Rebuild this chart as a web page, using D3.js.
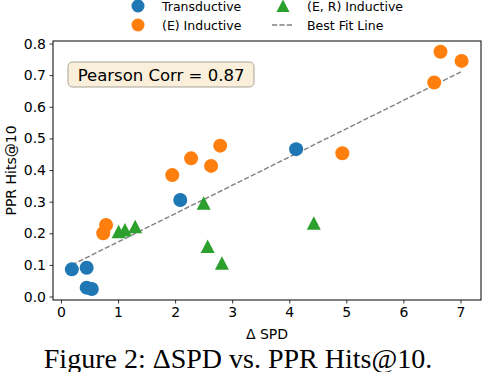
<!DOCTYPE html>
<html>
<head>
<meta charset="utf-8">
<script src="https://cdn.jsdelivr.net/npm/d3@7"></script>
<style>
  body { margin: 0; background: #fff; }
  svg text { font-family: "DejaVu Sans", sans-serif; }
</style>
</head>
<body>
<div id="chart"></div>
<script>
// data
var transX = [0.19, 0.45, 0.45, 0.54, 2.09, 4.12];
var transY = [0.086, 0.091, 0.028, 0.024, 0.305, 0.466];
var indEX = [0.79, 0.74, 1.95, 2.28, 2.63, 2.79, 4.93, 6.54, 6.65, 7.02];
var indEY = [0.226, 0.2, 0.384, 0.437, 0.413, 0.477, 0.453, 0.677, 0.774, 0.745];
var indERX = [1.01, 1.12, 1.30, 2.50, 2.57, 2.82, 4.43];
var indERY = [0.205, 0.21, 0.221, 0.295, 0.158, 0.105, 0.232];
var fitSlope = 0.0895, fitIntercept = 0.083;
var xTicks = [0, 1, 2, 3, 4, 5, 6, 7];
var yTicks = [0, 0.1, 0.2, 0.3, 0.4, 0.5, 0.6, 0.7, 0.8];
var legendLabels = ["Transductive", "(E) Inductive", "(E, R) Inductive", "Best Fit Line"];
var corrText = "Pearson Corr = 0.87";

var colors = {trans: "#1f77b4", indE: "#ff7f0e", indER: "#2ca02c"};
var FONT = "'DejaVu Sans', sans-serif";

var W = 482, H = 372;
var margin = {top: 41, right: 1, bottom: 72, left: 53};
var width = W - margin.left - margin.right,
    height = H - margin.top - margin.bottom;

var svg = d3.select("#chart").append("svg")
    .attr("width", W).attr("height", H);

var g = svg.append("g")
    .attr("transform", "translate(" + margin.left + "," + margin.top + ")");

var x = d3.scaleLinear().domain([-0.14, 7.36]).range([0, width]);
var y = d3.scaleLinear().domain([-0.011, 0.808]).range([height, 0]);

function zip(xs, ys) { return xs.map(function(v, i) { return {x: v, y: ys[i]}; }); }

// axes
var xAxis = g.append("g")
    .attr("transform", "translate(0," + height + ")")
    .call(d3.axisBottom(x).tickValues(xTicks).tickFormat(d3.format("d")).tickSize(3.5).tickPadding(3.5));
var yAxis = g.append("g")
    .call(d3.axisLeft(y).tickValues(yTicks).tickFormat(d3.format(".1f")).tickSize(3.5).tickPadding(3.5));
[xAxis, yAxis].forEach(function(a) {
  a.attr("font-family", null);
  a.select(".domain").remove();
  a.selectAll("text").attr("font-size", 14).attr("fill", "#000").style("font-family", FONT);
  a.selectAll("line").attr("stroke", "#000").attr("stroke-width", 0.8);
});

// frame
g.append("rect")
    .attr("width", width).attr("height", height)
    .attr("fill", "none").attr("stroke", "#000").attr("stroke-width", 1);

// best fit line
var xMin = d3.min(transX.concat(indEX, indERX)), xMax = d3.max(transX.concat(indEX, indERX));
g.append("line")
    .attr("x1", x(xMin)).attr("y1", y(fitSlope * xMin + fitIntercept))
    .attr("x2", x(xMax)).attr("y2", y(fitSlope * xMax + fitIntercept))
    .attr("stroke", "#808080").attr("stroke-width", 1.4)
    .attr("stroke-dasharray", "5.2,2.2");

// scatter
g.selectAll(".trans").data(zip(transX, transY)).enter().append("circle")
    .attr("cx", function(d) { return x(d.x); })
    .attr("cy", function(d) { return y(d.y); })
    .attr("r", 7).attr("fill", colors.trans);
g.selectAll(".inde").data(zip(indEX, indEY)).enter().append("circle")
    .attr("cx", function(d) { return x(d.x); })
    .attr("cy", function(d) { return y(d.y); })
    .attr("r", 7).attr("fill", colors.indE);
g.selectAll(".inder").data(zip(indERX, indERY)).enter().append("path")
    .attr("d", "M0,-7L7,6.5L-7,6.5Z")
    .attr("transform", function(d) { return "translate(" + x(d.x) + "," + y(d.y) + ")"; })
    .attr("fill", colors.indER);

// correlation box
var box = svg.append("g").attr("transform", "translate(68,62)");
box.append("rect")
    .attr("width", 186).attr("height", 25).attr("rx", 4.5)
    .attr("fill", "#f9efda").attr("stroke", "#a9a396").attr("stroke-width", 1);
box.append("text")
    .attr("x", 93).attr("y", 18.5)
    .attr("text-anchor", "middle")
    .attr("font-size", 16.5)
    .style("font-family", FONT)
    .text(corrText);

// axis labels
svg.append("text")
    .attr("x", margin.left + width / 2).attr("y", 338.5)
    .attr("text-anchor", "middle").attr("font-size", 14)
    .style("font-family", FONT)
    .text("\u0394 SPD");
svg.append("text")
    .attr("transform", "translate(15.5," + (margin.top + height / 2) + ")rotate(-90)")
    .attr("text-anchor", "middle").attr("font-size", 14)
    .style("font-family", FONT)
    .text("PPR Hits@10");

// legend
var leg = svg.append("g");
var legPos = [[138, 6], [138, 25], [283, 6], [283, 25]];
legendLabels.forEach(function(lbl, i) {
  var p = legPos[i];
  if (i < 2) {
    leg.append("circle").attr("cx", p[0]).attr("cy", p[1]).attr("r", 6.5)
        .attr("fill", i === 0 ? colors.trans : colors.indE);
  } else if (i === 2) {
    leg.append("path").attr("d", "M0,-6.5L6.5,6L-6.5,6Z")
        .attr("transform", "translate(" + p[0] + "," + p[1] + ")")
        .attr("fill", colors.indER);
  } else {
    leg.append("line").attr("x1", p[0] - 11).attr("x2", p[0] + 11)
        .attr("y1", p[1]).attr("y2", p[1])
        .attr("stroke", "#808080").attr("stroke-width", 1.4)
        .attr("stroke-dasharray", "5.2,2.2");
  }
  leg.append("text")
      .attr("x", p[0] + 24).attr("y", p[1] + 4.5)
      .attr("font-size", 12.5)
      .style("font-family", FONT)
      .text(lbl);
});

// caption
svg.append("text")
    .attr("x", 238).attr("y", 367.5)
    .attr("text-anchor", "middle")
    .attr("font-size", 28)
    .style("font-family", "'Liberation Serif', 'DejaVu Serif', serif")
    .text("Figure 2: \u0394SPD vs. PPR Hits@10.");
</script>
</body>
</html>
